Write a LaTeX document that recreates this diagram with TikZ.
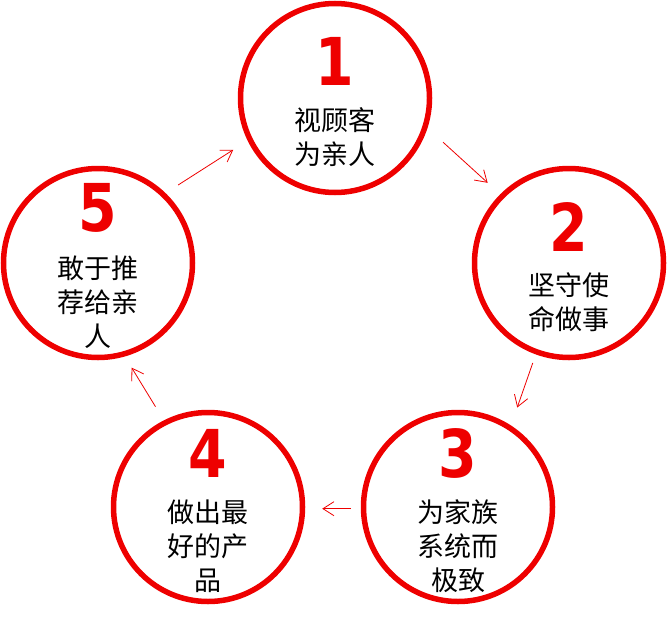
\documentclass[tikz,border=0pt]{standalone}
\usepackage{fontspec}
\usetikzlibrary{arrows.meta,calc}
\newfontfamily\cjk{Noto Sans CJK SC}
\newfontfamily\numfont{DejaVu Sans}[FakeStretch=0.84]
\definecolor{ringred}{RGB}{238,0,0}

\begin{document}
\begin{tikzpicture}[x=1pt, y=-1pt, >={Straight Barb[length=11pt,width=14pt]},
  ring/.style={draw=ringred, circle, line width=5.5pt, minimum size=189pt, inner sep=0pt},
  num/.style={font=\numfont\bfseries\fontsize{66}{66}\selectfont, text=ringred, inner sep=0pt},
  lbl/.style={font=\cjk\fontsize{27}{34}\selectfont, align=center, inner sep=0pt},
  flow/.style={->, draw=ringred, line width=0.8pt}]
  \useasboundingbox (0,0) rectangle (668,618);
  \node[ring] (c1) at (335,98) {};
  \node[ring] (c2) at (569,263) {};
  \node[ring] (c3) at (458,507) {};
  \node[ring] (c4) at (208,507) {};
  \node[ring] (c5) at (98,263) {};
  \node[num] (n1) at ($(c1)+(0,-37)$) {1};
  \node[num] (n2) at ($(c2)+(0,-36)$) {2};
  \node[num] (n3) at ($(c3)+(0,-54)$) {3};
  \node[num] (n4) at ($(c4)+(0,-54)$) {4};
  \node[num] (n5) at ($(c5)+(0,-55)$) {5};
  \node[lbl] (t1) at ($(c1)+(0,39)$) {视顾客\\为亲人};
  \node[lbl] (t2) at ($(c2)+(0,39)$) {坚守使\\命做事};
  \node[lbl] (t3) at ($(c3)+(0,39)$) {为家族\\系统而\\极致};
  \node[lbl] (t4) at ($(c4)+(0,39)$) {做出最\\好的产\\品};
  \node[lbl] (t5) at ($(c5)+(0,39)$) {敢于推\\荐给亲\\人};
  \draw[flow, shorten <=21pt, shorten >=17pt] (c1.-18) -- (c2.135);
  \draw[flow, shorten <=9pt, shorten >=19pt] (c2.-110) -- (c3.57);
  \draw[flow, shorten <=10pt, shorten >=17pt] (c3.181) -- (c4.-1);
  \draw[flow, shorten <=16pt, shorten >=13pt] (c4.117) -- (c5.-74);
  \draw[flow, shorten <=15pt, shorten >=17pt] (c5.46) -- (c1.206);
\end{tikzpicture}
\end{document}
